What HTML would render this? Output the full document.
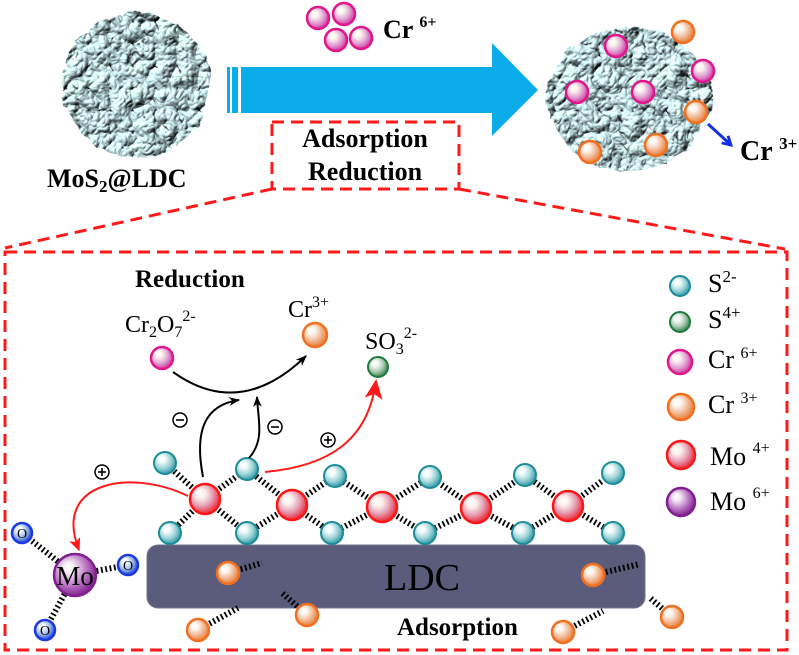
<!DOCTYPE html>
<html><head><meta charset="utf-8"><style>
html,body{margin:0;padding:0;background:#fff;}
svg{display:block;}
text{font-family:"Liberation Serif",serif;}
</style></head><body>
<svg width="799" height="655" viewBox="0 0 799 655" xmlns="http://www.w3.org/2000/svg">
<defs>
<filter id="tex1" x="-10%" y="-10%" width="120%" height="120%" color-interpolation-filters="sRGB">
 <feTurbulence type="turbulence" baseFrequency="0.045" numOctaves="3" seed="4" result="n"/>
 <feDiffuseLighting in="n" surfaceScale="5" diffuseConstant="1.2" lighting-color="#cff0f4" result="lit"><feDistantLight azimuth="235" elevation="52"/></feDiffuseLighting>
 <feColorMatrix in="n" type="matrix" values="7 0 0 0 0.04  7 0 0 0 0.04  7 0 0 0 0.04  0 0 0 0 1" result="cr"/>
 <feComposite in="lit" in2="cr" operator="arithmetic" k1="1" result="c"/>
 <feDisplacementMap in="SourceGraphic" in2="n" scale="8" xChannelSelector="R" yChannelSelector="G" result="shape"/>
 <feComposite in="c" in2="shape" operator="in"/>
</filter>
<filter id="tex2" x="-10%" y="-10%" width="120%" height="120%" color-interpolation-filters="sRGB">
 <feTurbulence type="turbulence" baseFrequency="0.045" numOctaves="3" seed="11" result="n"/>
 <feDiffuseLighting in="n" surfaceScale="5" diffuseConstant="1.2" lighting-color="#cff0f4" result="lit"><feDistantLight azimuth="235" elevation="52"/></feDiffuseLighting>
 <feColorMatrix in="n" type="matrix" values="7 0 0 0 0.04  7 0 0 0 0.04  7 0 0 0 0.04  0 0 0 0 1" result="cr"/>
 <feComposite in="lit" in2="cr" operator="arithmetic" k1="1" result="c"/>
 <feDisplacementMap in="SourceGraphic" in2="n" scale="8" xChannelSelector="R" yChannelSelector="G" result="shape"/>
 <feComposite in="c" in2="shape" operator="in"/>
</filter>
<radialGradient id="gP" cx="0.42" cy="0.4" r="0.62" fx="0.33" fy="0.3"><stop offset="0" stop-color="#fff"/><stop offset="0.25" stop-color="#fcf4ee"/><stop offset="0.62" stop-color="#e0a2d4"/><stop offset="1" stop-color="#d0309a"/></radialGradient>
<radialGradient id="gO" cx="0.42" cy="0.4" r="0.62" fx="0.33" fy="0.3"><stop offset="0" stop-color="#fff"/><stop offset="0.25" stop-color="#fdf6ee"/><stop offset="0.62" stop-color="#f2b896"/><stop offset="1" stop-color="#e8782c"/></radialGradient>
<radialGradient id="gT" cx="0.42" cy="0.4" r="0.62" fx="0.33" fy="0.3"><stop offset="0" stop-color="#fff"/><stop offset="0.25" stop-color="#f2fbfb"/><stop offset="0.62" stop-color="#9ed4d8"/><stop offset="1" stop-color="#2a96a2"/></radialGradient>
<radialGradient id="gG" cx="0.42" cy="0.4" r="0.62" fx="0.33" fy="0.3"><stop offset="0" stop-color="#fff"/><stop offset="0.25" stop-color="#f2f8f2"/><stop offset="0.62" stop-color="#aac8b2"/><stop offset="1" stop-color="#2e8048"/></radialGradient>
<radialGradient id="gR" cx="0.42" cy="0.4" r="0.62" fx="0.33" fy="0.3"><stop offset="0" stop-color="#fff"/><stop offset="0.25" stop-color="#fcf2ee"/><stop offset="0.6" stop-color="#e6a0b6"/><stop offset="1" stop-color="#e8202e"/></radialGradient>
<radialGradient id="gM" cx="0.42" cy="0.4" r="0.62" fx="0.33" fy="0.3"><stop offset="0" stop-color="#fff"/><stop offset="0.22" stop-color="#f4eaf2"/><stop offset="0.6" stop-color="#c07cc8"/><stop offset="1" stop-color="#7c1c8c"/></radialGradient>
<radialGradient id="gB" cx="0.42" cy="0.4" r="0.62" fx="0.33" fy="0.3"><stop offset="0" stop-color="#fff"/><stop offset="0.25" stop-color="#eef4fc"/><stop offset="0.62" stop-color="#94b2e6"/><stop offset="1" stop-color="#1a3ad8"/></radialGradient>
<marker id="ab" viewBox="0 0 10 10" refX="9" refY="5" markerWidth="11" markerHeight="11" markerUnits="userSpaceOnUse" orient="auto"><path d="M0,1 L10,5 L0,9 L3,5 z" fill="#000"/></marker>
<marker id="ar" viewBox="0 0 10 10" refX="9" refY="5" markerWidth="20" markerHeight="20" markerUnits="userSpaceOnUse" orient="auto"><path d="M0,0.5 L10,5 L0,9.5 L2.5,5 z" fill="#ff1a1a"/></marker>
<marker id="ars" viewBox="0 0 10 10" refX="9" refY="5" markerWidth="13" markerHeight="13" markerUnits="userSpaceOnUse" orient="auto"><path d="M0,0.5 L10,5 L0,9.5 L2.5,5 z" fill="#ff1a1a"/></marker>
<marker id="abl" viewBox="0 0 10 10" refX="8" refY="5" markerWidth="12" markerHeight="12" markerUnits="userSpaceOnUse" orient="auto"><path d="M1,1 L8,5 L1,9" fill="none" stroke="#1530e0" stroke-width="2.4"/></marker>
</defs>
<rect width="799" height="655" fill="#fff"/>

<!-- spheres -->
<ellipse cx="135" cy="83" rx="74" ry="72" fill="#b0d0d4" filter="url(#tex1)"/>
<ellipse cx="628" cy="97" rx="82" ry="72" fill="#b0d0d4" filter="url(#tex2)"/>

<!-- Cr6+ top -->
<g stroke="#e0168a" stroke-width="2.5" fill="url(#gP)">
<circle cx="318" cy="18" r="11"/><circle cx="344" cy="14" r="11"/><circle cx="336" cy="40" r="11"/><circle cx="361" cy="38" r="11"/>
</g>
<text x="383" y="38" font-size="26" font-weight="bold">Cr <tspan font-size="16" dy="-11">6+</tspan></text>

<!-- big blue arrow -->
<g fill="#0aacea">
<rect x="227" y="67" width="3" height="46"/>
<rect x="232" y="67" width="6" height="46"/>
<rect x="241" y="67" width="252" height="46"/>
<polygon points="492,43 538,90 492,136"/>
</g>

<!-- right sphere ions -->
<g stroke="#e0168a" stroke-width="2.5" fill="url(#gP)">
<circle cx="616" cy="46" r="11"/><circle cx="577" cy="92" r="11"/><circle cx="643" cy="92" r="11"/><circle cx="703" cy="71" r="11"/>
</g>
<g stroke="#f07020" stroke-width="2.5" fill="url(#gO)">
<circle cx="683" cy="32" r="11"/><circle cx="696" cy="112" r="11"/><circle cx="656" cy="145" r="11"/><circle cx="590" cy="152" r="11"/>
</g>
<line x1="708" y1="124" x2="731" y2="145" stroke="#1530e0" stroke-width="3" marker-end="url(#abl)"/>
<text x="740" y="160" font-size="28" font-weight="bold">Cr <tspan font-size="17" dy="-11">3+</tspan></text>

<text x="47" y="187" font-size="26" font-weight="bold">MoS<tspan font-size="17" dy="5">2</tspan><tspan dy="-5">@LDC</tspan></text>

<!-- dashed boxes -->
<g fill="none" stroke="#ff1a1a" stroke-width="3" stroke-dasharray="12 7">
<rect x="272" y="122" width="187" height="67"/>
<line x1="272" y1="189" x2="5" y2="248"/>
<line x1="459" y1="189" x2="785" y2="249"/>
<rect x="5" y="252" width="782" height="398"/>
</g>
<text x="365" y="147" font-size="26" font-weight="bold" text-anchor="middle">Adsorption</text>
<text x="365" y="180" font-size="26" font-weight="bold" text-anchor="middle">Reduction</text>

<!-- lower panel texts -->
<text x="135" y="287" font-size="25" font-weight="bold">Reduction</text>
<text x="125" y="332" font-size="24">Cr<tspan font-size="16" dy="5">2</tspan><tspan dy="-5">O</tspan><tspan font-size="16" dy="5">7</tspan><tspan font-size="16" dy="-16">2-</tspan></text>
<text x="288" y="317" font-size="24">Cr<tspan font-size="16" dy="-10">3+</tspan></text>
<text x="365" y="349" font-size="24">SO<tspan font-size="16" dy="5">3</tspan><tspan font-size="16" dy="-16">2-</tspan></text>

<!-- LDC -->
<rect x="147" y="545" width="498" height="63" rx="11" fill="#5b5b7b" stroke="#75758f" stroke-width="1"/>
<text x="384" y="590" font-size="38">LDC</text>
<text x="397" y="635" font-size="25" font-weight="bold">Adsorption</text>

<!-- hashed bonds -->
<g stroke="#000" stroke-width="6" stroke-dasharray="1.8 2.6" fill="none">
<line x1="205" y1="499" x2="165" y2="463"/><line x1="205" y1="499" x2="247" y2="469"/><line x1="205" y1="499" x2="170" y2="533"/><line x1="205" y1="499" x2="247" y2="533"/>
<line x1="292" y1="505" x2="247" y2="469"/><line x1="292" y1="505" x2="335" y2="476"/><line x1="292" y1="505" x2="247" y2="533"/><line x1="292" y1="505" x2="332" y2="533"/>
<line x1="382" y1="507" x2="335" y2="476"/><line x1="382" y1="507" x2="430" y2="477"/><line x1="382" y1="507" x2="332" y2="533"/><line x1="382" y1="507" x2="425" y2="533"/>
<line x1="476" y1="508" x2="430" y2="477"/><line x1="476" y1="508" x2="525" y2="475"/><line x1="476" y1="508" x2="425" y2="533"/><line x1="476" y1="508" x2="523" y2="533"/>
<line x1="568" y1="506" x2="525" y2="475"/><line x1="568" y1="506" x2="613" y2="473"/><line x1="568" y1="506" x2="523" y2="533"/><line x1="568" y1="506" x2="613" y2="533"/>
<line x1="228" y1="573" x2="262" y2="563"/><line x1="307" y1="615" x2="281" y2="592"/><line x1="198" y1="630" x2="238" y2="608"/>
<line x1="593" y1="575" x2="640" y2="564"/><line x1="672" y1="617" x2="649" y2="597"/><line x1="563" y1="632" x2="603" y2="611"/>
<line x1="75" y1="575" x2="22" y2="533"/><line x1="75" y1="575" x2="128" y2="565"/><line x1="75" y1="575" x2="45" y2="630"/>
</g>

<!-- S atoms -->
<g stroke="#1b8c98" stroke-width="2" fill="url(#gT)">
<circle cx="165" cy="463" r="11"/><circle cx="247" cy="469" r="11"/><circle cx="335" cy="476" r="11"/><circle cx="430" cy="477" r="11"/><circle cx="525" cy="475" r="11"/><circle cx="613" cy="473" r="11"/>
<circle cx="170" cy="533" r="11"/><circle cx="247" cy="533" r="11"/><circle cx="332" cy="533" r="11"/><circle cx="425" cy="533" r="11"/><circle cx="523" cy="533" r="11"/><circle cx="613" cy="533" r="11"/>
</g>
<!-- Mo4+ -->
<g stroke="#ff1515" stroke-width="2.5" fill="url(#gR)">
<circle cx="205" cy="499" r="15"/><circle cx="292" cy="505" r="15"/><circle cx="382" cy="507" r="15"/><circle cx="476" cy="508" r="15"/><circle cx="568" cy="506" r="15"/>
</g>
<!-- Cr3+ near LDC -->
<g stroke="#f07020" stroke-width="2.5" fill="url(#gO)">
<circle cx="228" cy="573" r="11"/><circle cx="307" cy="615" r="11"/><circle cx="198" cy="630" r="11"/>
<circle cx="593" cy="575" r="11"/><circle cx="672" cy="617" r="11"/><circle cx="563" cy="632" r="11"/>
</g>
<!-- Mo6+ with O -->
<g stroke="#1a3ae0" stroke-width="2.5" fill="url(#gB)">
<circle cx="22" cy="533" r="10"/><circle cx="128" cy="565" r="10"/><circle cx="45" cy="630" r="10"/>
</g>
<g font-size="14" text-anchor="middle" fill="#000">
<text x="22" y="538">O</text><text x="128" y="570">O</text><text x="45" y="635">O</text>
</g>
<circle cx="75" cy="575" r="21" stroke="#80208f" stroke-width="2.5" fill="url(#gM)"/>
<text x="75" y="585" font-size="27" text-anchor="middle">Mo</text>

<!-- reaction arrows -->
<g fill="none" stroke="#000" stroke-width="2">
<path d="M173,372 Q240,420 306,356" marker-end="url(#ab)"/>
<path d="M203,477 C194,430 205,405 239,400" marker-end="url(#ab)"/>
<path d="M249,458 C265,440 258,420 257,397" marker-end="url(#ab)"/>
</g>
<path d="M265,472 C330,466 368,440 376,381" fill="none" stroke="#ff1a1a" stroke-width="2" marker-end="url(#ar)"/>
<path d="M188,496 C130,468 52,482 79,550" fill="none" stroke="#ff1a1a" stroke-width="2" marker-end="url(#ars)"/>
<circle cx="378" cy="367" r="10" stroke="#1f7a3c" stroke-width="2" fill="url(#gG)"/>
<circle cx="162" cy="358" r="11" stroke="#e0168a" stroke-width="2.5" fill="url(#gP)"/>
<circle cx="315" cy="335" r="12" stroke="#f07020" stroke-width="2.5" fill="url(#gO)"/>

<!-- charge symbols -->
<g fill="#fff" stroke="#000" stroke-width="1.5">
<circle cx="180" cy="420" r="7"/><circle cx="275" cy="427" r="7"/><circle cx="328" cy="440" r="7"/><circle cx="102" cy="472" r="7"/>
</g>
<g stroke="#000" stroke-width="1.6">
<line x1="176" y1="420" x2="184" y2="420"/><line x1="271" y1="427" x2="279" y2="427"/>
<line x1="324" y1="440" x2="332" y2="440"/><line x1="328" y1="436" x2="328" y2="444"/>
<line x1="98" y1="472" x2="106" y2="472"/><line x1="102" y1="468" x2="102" y2="476"/>
</g>

<!-- legend -->
<circle cx="680" cy="286" r="10" stroke="#1b8c98" stroke-width="2" fill="url(#gT)"/>
<circle cx="680" cy="322" r="10" stroke="#1f7a3c" stroke-width="2" fill="url(#gG)"/>
<circle cx="680" cy="362" r="12" stroke="#e0168a" stroke-width="2.5" fill="url(#gP)"/>
<circle cx="681" cy="407" r="13" stroke="#f07020" stroke-width="2.5" fill="url(#gO)"/>
<circle cx="681" cy="455" r="14" stroke="#ff1515" stroke-width="2.5" fill="url(#gR)"/>
<circle cx="681" cy="502" r="14" stroke="#80208f" stroke-width="2.5" fill="url(#gM)"/>
<g font-size="26">
<text x="708" y="292">S<tspan font-size="17" dy="-10">2-</tspan></text>
<text x="708" y="328">S<tspan font-size="17" dy="-10">4+</tspan></text>
<text x="708" y="368">Cr <tspan font-size="16" dy="-10">6+</tspan></text>
<text x="708" y="413">Cr <tspan font-size="16" dy="-10">3+</tspan></text>
<text x="710" y="465">Mo <tspan font-size="16" dy="-12">4+</tspan></text>
<text x="710" y="510">Mo <tspan font-size="16" dy="-12">6+</tspan></text>
</g>
</svg>
</body></html>
